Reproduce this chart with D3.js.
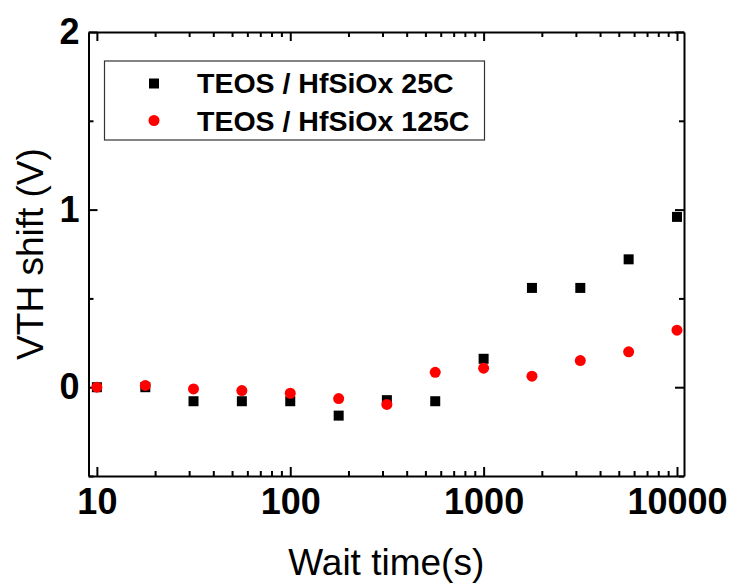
<!DOCTYPE html>
<html>
<head>
<meta charset="utf-8">
<script src="https://cdn.jsdelivr.net/npm/d3@7"></script>
<style>
  body { margin: 0; background: #fff; }
  svg { display: block; font-family: "Liberation Sans", Arial, sans-serif; }
  .axis path, .axis line { stroke: #000; stroke-width: 2; }
  .axis text { font-size: 36px; font-weight: bold; fill: #000; }
</style>
</head>
<body>
<svg></svg>
<script>
var width  = 733;
var height = 585;
var margin = {top: 32, right: 49, bottom: 109, left: 88.5};

// wait times (s), 4 points per decade
var waitTimes = [10, 17.8, 31.6, 56.2, 100, 178, 316, 562, 1000, 1778, 3162, 5623, 10000];
var shift25C  = [0, 0, -0.079, -0.079, -0.079, -0.16, -0.073, -0.079, 0.16, 0.559, 0.559, 0.72, 0.959];
var shift125C = [0, 0.01, -0.01, -0.019, -0.034, -0.064, -0.097, 0.084, 0.107, 0.062, 0.15, 0.199, 0.321];

var xMajorTicks = [10, 100, 1000, 10000];
var xMinorTicks = [20, 30, 40, 50, 60, 70, 80, 90,
                   200, 300, 400, 500, 600, 700, 800, 900,
                   2000, 3000, 4000, 5000, 6000, 7000, 8000, 9000];
var yMajorTicks = [0, 1, 2];
var yMinorTicks = [-0.5, 0.5, 1.5];

var seriesNames = ['TEOS / HfSiOx 25C', 'TEOS / HfSiOx 125C'];
var seriesColors = ['#000000', '#ff0000'];

var svg = d3.select('svg')
        .attr('width', width)
        .attr('height', height);

var xScale = d3.scaleLog()
                    .domain([9.05, 10870])
                    .range([margin.left, width - margin.right]);

var yScale = d3.scaleLinear()
                    .domain([-0.5, 2])
                    .range([height - margin.bottom, margin.top]);

var plotW = width - margin.right - margin.left;
var plotH = height - margin.bottom - margin.top;

// bottom axis, ticks pointing inward
svg.append('g')
        .attr('class', 'axis')
        .attr('transform', 'translate(0,' + (height - margin.bottom) + ')')
        .call(d3.axisBottom(xScale).tickValues(xMajorTicks).tickFormat(d3.format('d'))
                .tickSize(-9).tickSizeOuter(0).tickPadding(12));

svg.append('g')
        .attr('class', 'axis')
        .attr('transform', 'translate(0,' + (height - margin.bottom) + ')')
        .call(d3.axisBottom(xScale).tickValues(xMinorTicks).tickFormat('')
                .tickSize(-5).tickSizeOuter(0))
    .select('.domain').remove();

// top axis mirror
svg.append('g')
        .attr('class', 'axis')
        .attr('transform', 'translate(0,' + margin.top + ')')
        .call(d3.axisTop(xScale).tickValues(xMajorTicks).tickFormat('')
                .tickSize(-9).tickSizeOuter(0));

svg.append('g')
        .attr('class', 'axis')
        .attr('transform', 'translate(0,' + margin.top + ')')
        .call(d3.axisTop(xScale).tickValues(xMinorTicks).tickFormat('')
                .tickSize(-5).tickSizeOuter(0))
    .select('.domain').remove();

// left axis
svg.append('g')
        .attr('class', 'axis')
        .attr('transform', 'translate(' + margin.left + ',0)')
        .call(d3.axisLeft(yScale).tickValues(yMajorTicks).tickFormat(d3.format('d'))
                .tickSize(-9).tickSizeOuter(0).tickPadding(9));

svg.append('g')
        .attr('class', 'axis')
        .attr('transform', 'translate(' + margin.left + ',0)')
        .call(d3.axisLeft(yScale).tickValues(yMinorTicks).tickFormat('')
                .tickSize(-5).tickSizeOuter(0))
    .select('.domain').remove();

// right axis mirror
svg.append('g')
        .attr('class', 'axis')
        .attr('transform', 'translate(' + (width - margin.right) + ',0)')
        .call(d3.axisRight(yScale).tickValues(yMajorTicks).tickFormat('')
                .tickSize(-9).tickSizeOuter(0));

svg.append('g')
        .attr('class', 'axis')
        .attr('transform', 'translate(' + (width - margin.right) + ',0)')
        .call(d3.axisRight(yScale).tickValues(yMinorTicks).tickFormat('')
                .tickSize(-5).tickSizeOuter(0))
    .select('.domain').remove();

// data points: squares under circles
svg.append('g')
    .selectAll('rect')
    .data(waitTimes)
    .enter()
    .append('rect')
        .attr('x', (d, i) => xScale(d) - 5)
        .attr('y', (d, i) => yScale(shift25C[i]) - 5)
        .attr('width', 10)
        .attr('height', 10)
        .attr('fill', seriesColors[0]);

svg.append('g')
    .selectAll('circle')
    .data(waitTimes)
    .enter()
    .append('circle')
        .attr('cx', (d, i) => xScale(d))
        .attr('cy', (d, i) => yScale(shift125C[i]))
        .attr('r', 5.5)
        .attr('fill', seriesColors[1]);

// legend
var legend = svg.append('g')
        .attr('transform', 'translate(104.5,61)');

legend.append('rect')
        .attr('width', 380)
        .attr('height', 79)
        .attr('fill', 'none')
        .attr('stroke', '#333')
        .attr('stroke-width', 1.2);

legend.append('rect')
        .attr('x', 44.5)
        .attr('y', 17.5)
        .attr('width', 10)
        .attr('height', 10)
        .attr('fill', seriesColors[0]);

legend.append('circle')
        .attr('cx', 49.5)
        .attr('cy', 59.5)
        .attr('r', 5.5)
        .attr('fill', seriesColors[1]);

legend.selectAll('text')
    .data(seriesNames)
    .enter()
    .append('text')
        .attr('x', 92.5)
        .attr('y', (d, i) => 22.5 + i * 37.5)
        .attr('dy', '0.35em')
        .attr('font-size', '28.5px')
        .attr('font-weight', 'bold')
        .text(d => d);

// axis titles
svg.append('text')
        .attr('x', margin.left + plotW / 2)
        .attr('y', 575)
        .attr('text-anchor', 'middle')
        .attr('font-size', '37px')
        .text('Wait time(s)');

svg.append('text')
        .attr('transform', 'rotate(-90)')
        .attr('x', -(margin.top + plotH / 2))
        .attr('y', 43)
        .attr('text-anchor', 'middle')
        .attr('font-size', '37px')
        .text('VTH shift (V)');
</script>
</body>
</html>
